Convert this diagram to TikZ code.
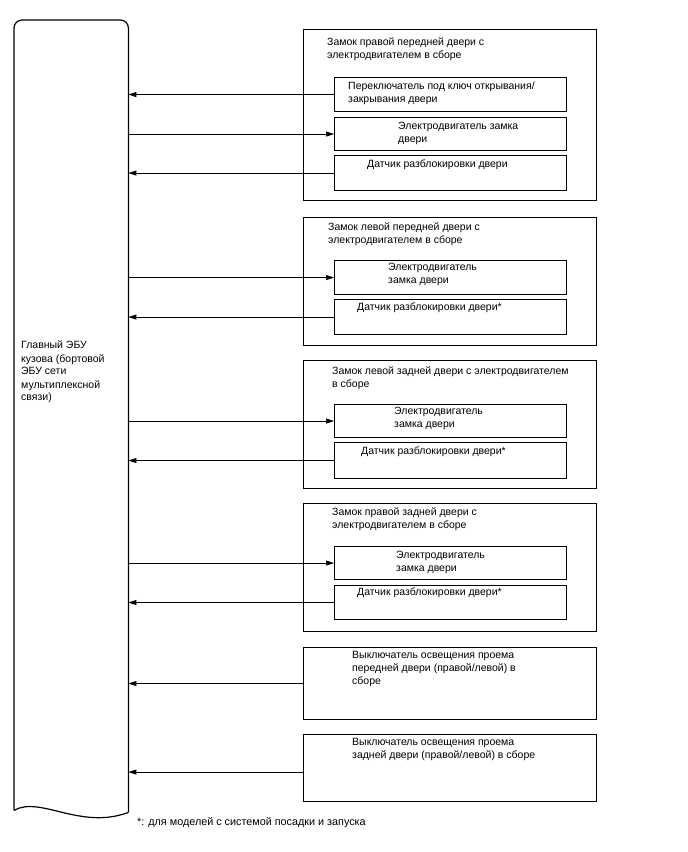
\documentclass[tikz,border=0pt]{standalone}
\usepackage{fontspec}
\setmainfont{Liberation Sans}
\usetikzlibrary{arrows.meta,calc}

\begin{document}
\begin{tikzpicture}[
  x=1pt, y=-1pt,
  font=\fontsize{10.5}{13}\selectfont, >={Triangle[length=8pt,width=5pt]},
  ecu/.style={inner sep=0pt, anchor=north west, minimum width=114pt, minimum height=792pt},
  eculine/.style={draw=black, line width=1.2pt},
  grp/.style={draw=black, line width=1.1pt, inner sep=0pt, anchor=north west, minimum width=293pt},
  part/.style={draw=black, line width=1.1pt, inner sep=0pt, anchor=north west, minimum width=232pt},
  wire/.style={->, line width=0.7pt, draw=black},
  txt/.style={inner sep=0pt, anchor=north west, align=left},
]
\useasboundingbox (0,0) rectangle (688,852);
% ---------------------------------------------------------------- ECU
\node[ecu] (ecu) at (14,20) {};
\draw[eculine, rounded corners=8pt] ([yshift=2pt]ecu.south west) -- (ecu.north west) -- (ecu.north east) -- (ecu.south east);
\draw[eculine] (ecu.south east) .. controls +(-48,18) and +(26,-15) .. ([yshift=2pt]ecu.south west);
\node[txt] at (21,341) {Главный ЭБУ\\кузова (бортовой\\ЭБУ сети\\мультиплексной\\связи)};

% ---------------------------------------------------------------- front right lock
\node[grp, minimum height=171pt] (g1) at (303,29) {};
\node[txt] at (327,38) {Замок правой передней двери с\\электродвигателем в сборе};
\node[part, minimum height=34pt] (g1a) at (334,77) {};
\node[txt] at (348,82) {Переключатель под ключ открывания/\\закрывания двери};
\node[part, minimum height=33pt] (g1b) at (334,117) {};
\node[txt] at (398,122) {Электродвигатель замка\\двери};
\node[part, minimum height=35pt] (g1c) at (334,155) {};
\node[txt] at (367,160) {Датчик разблокировки двери};

% ---------------------------------------------------------------- front left lock
\node[grp, minimum height=128pt] (g2) at (303,217) {};
\node[txt] at (328,223) {Замок левой передней двери с\\электродвигателем в сборе};
\node[part, minimum height=34pt] (g2a) at (334,260) {};
\node[txt] at (388,263) {Электродвигатель\\замка двери};
\node[part, minimum height=35pt] (g2b) at (334,299) {};
\node[txt] at (357,303) {Датчик разблокировки двери*};

% ---------------------------------------------------------------- rear left lock
\node[grp, minimum height=128pt] (g3) at (303,360) {};
\node[txt] at (332,367) {Замок левой задней двери с электродвигателем\\в сборе};
\node[part, minimum height=33pt] (g3a) at (334,404) {};
\node[txt] at (394,407) {Электродвигатель\\замка двери};
\node[part, minimum height=36pt] (g3b) at (334,442) {};
\node[txt] at (361,447) {Датчик разблокировки двери*};

% ---------------------------------------------------------------- rear right lock
\node[grp, minimum height=128pt] (g4) at (303,503) {};
\node[txt] at (332,507) {Замок правой задней двери с\\электродвигателем в сборе};
\node[part, minimum height=33pt] (g4a) at (334,546) {};
\node[txt] at (396,551) {Электродвигатель\\замка двери};
\node[part, minimum height=34pt] (g4b) at (334,585) {};
\node[txt] at (357,588) {Датчик разблокировки двери*};

% ---------------------------------------------------------------- courtesy switches
\node[grp, minimum height=72pt] (g5) at (303,647) {};
\node[txt] at (352,651) {Выключатель освещения проема\\передней двери (правой/левой) в\\сборе};
\node[grp, minimum height=67pt] (g6) at (303,734) {};
\node[txt] at (352,738) {Выключатель освещения проема\\задней двери (правой/левой) в сборе};

% ---------------------------------------------------------------- wires
\draw[wire] (g1a.west) -- (g1a.west -| ecu.east);
\draw[wire] (g1b.west -| ecu.east) -- (g1b.west);
\draw[wire] (g1c.west) -- (g1c.west -| ecu.east);
\draw[wire] (g2a.west -| ecu.east) -- (g2a.west);
\draw[wire] (g2b.west) -- (g2b.west -| ecu.east);
\draw[wire] (g3a.west -| ecu.east) -- (g3a.west);
\draw[wire] (g3b.west) -- (g3b.west -| ecu.east);
\draw[wire] (g4a.west -| ecu.east) -- (g4a.west);
\draw[wire] (g4b.west) -- (g4b.west -| ecu.east);
\draw[wire] (g5.west) -- (g5.west -| ecu.east);
\draw[wire] ([yshift=-4pt]g6.west) -- ([yshift=-4pt]g6.west -| ecu.east);

% footnote
\node[txt, font=\fontsize{10.8}{13}\selectfont] at (137,817) {*: для моделей с системой посадки и запуска};
\end{tikzpicture}
\end{document}
